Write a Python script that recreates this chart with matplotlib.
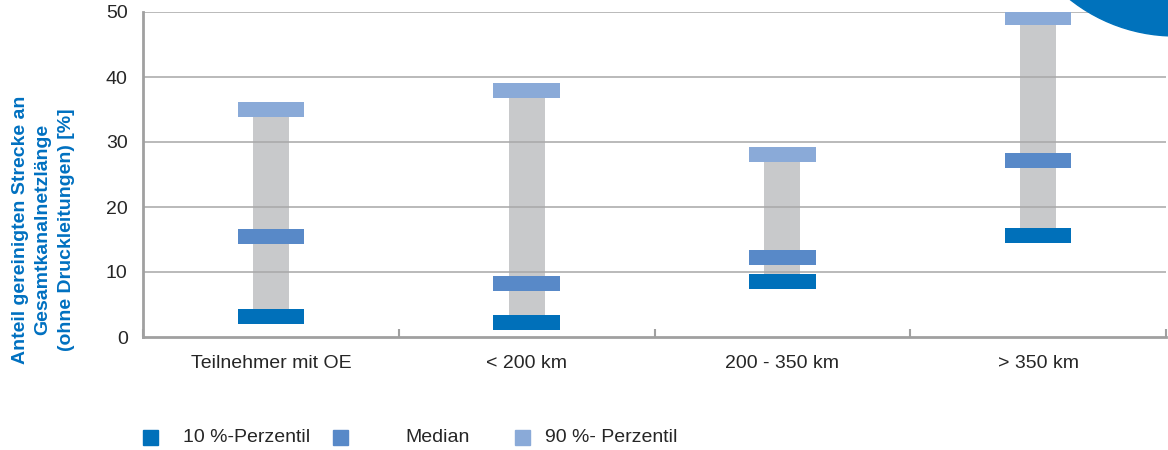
import matplotlib
matplotlib.use('Agg')
import matplotlib.pyplot as plt
from matplotlib.patches import Rectangle, Ellipse
import numpy as np

plt.rcParams['font.family'] = ['Liberation Sans', 'DejaVu Sans']

categories = ['Teilnehmer mit OE', '< 200 km', '200 - 350 km', '> 350 km']
p10 = [3.2, 2.3, 8.5, 15.6]
median = [15.4, 8.2, 12.2, 27.2]
p90 = [35.0, 37.9, 28.1, 49.2]

series_labels = ['10 %-Perzentil', 'Median', '90 %- Perzentil']
c_p10 = '#0070BA'
c_med = '#5889C8'
c_p90 = '#8AAAD8'
c_range = '#C8C9CB'
c_axis = '#A0A0A0'
c_text = '#262626'

fig = plt.figure(figsize=(11.68, 4.5), dpi=100)
ax = fig.add_axes([143 / 1168, 113 / 450, 1023 / 1168, 325 / 450])

x = np.arange(len(categories))
lo = np.array(p10)
hi = np.array(p90)

# range bar between 10 % and 90 % percentile
ax.bar(x, hi - lo, bottom=lo, width=0.14, color=c_range, zorder=1)

# percentile markers as short thick bars
h = 2.3
for vals, col in [(p10, c_p10), (median, c_med), (p90, c_p90)]:
    v = np.array(vals)
    ax.bar(x, h, bottom=v - h / 2, width=0.26, color=col, zorder=3)

ax.set_xlim(-0.5, len(categories) - 0.5)
ax.set_ylim(0, 50)
ax.set_yticks([0, 10, 20, 30, 40, 50])
for yv in [10, 20, 30, 40, 50]:
    ax.axhline(yv, color='#A8A8A8', lw=1.3, alpha=0.85, zorder=2)

ax.set_xticks(x)
ax.set_xticklabels(categories)
ax.set_xticks(np.arange(-0.5, len(categories)), minor=True)
ax.tick_params(axis='x', which='major', length=0, pad=13, labelsize=14,
               labelcolor=c_text)
ax.tick_params(axis='x', which='minor', direction='in', length=6,
               width=1.5, color=c_axis)
ax.tick_params(axis='y', length=0, pad=11, labelsize=14, labelcolor=c_text)

for s in ['top', 'right']:
    ax.spines[s].set_visible(False)
for s in ['left', 'bottom']:
    ax.spines[s].set_color(c_axis)
    ax.spines[s].set_linewidth(2)

fig.text(0.037, 0.49,
         'Anteil gereinigten Strecke an\nGesamtkanalnetzlänge\n(ohne Druckleitungen) [%]',
         rotation=90, ha='center', va='center', ma='center',
         fontsize=14, fontweight='bold', color='#0070C0', linespacing=1.45)

# legend drawn manually
leg_sq = [143, 333, 515]
leg_tx = [183, 405, 545]
for sx, tx, col, lab in zip(leg_sq, leg_tx, [c_p10, c_med, c_p90], series_labels):
    fig.patches.append(Rectangle((sx / 1168, (450 - 445) / 450), 15 / 1168, 15 / 450,
                                 transform=fig.transFigure, color=col))
    fig.text(tx / 1168, (450 - 438) / 450, lab, ha='left', va='center',
             fontsize=14, color=c_text)

# decorative circle top right
fig.patches.append(Ellipse((1175 / 1168, (450 + 133) / 450), 2 * 169 / 1168, 2 * 169 / 450,
                           transform=fig.transFigure, color='#0072BC', zorder=5))

fig.savefig('out.png', dpi=100)
